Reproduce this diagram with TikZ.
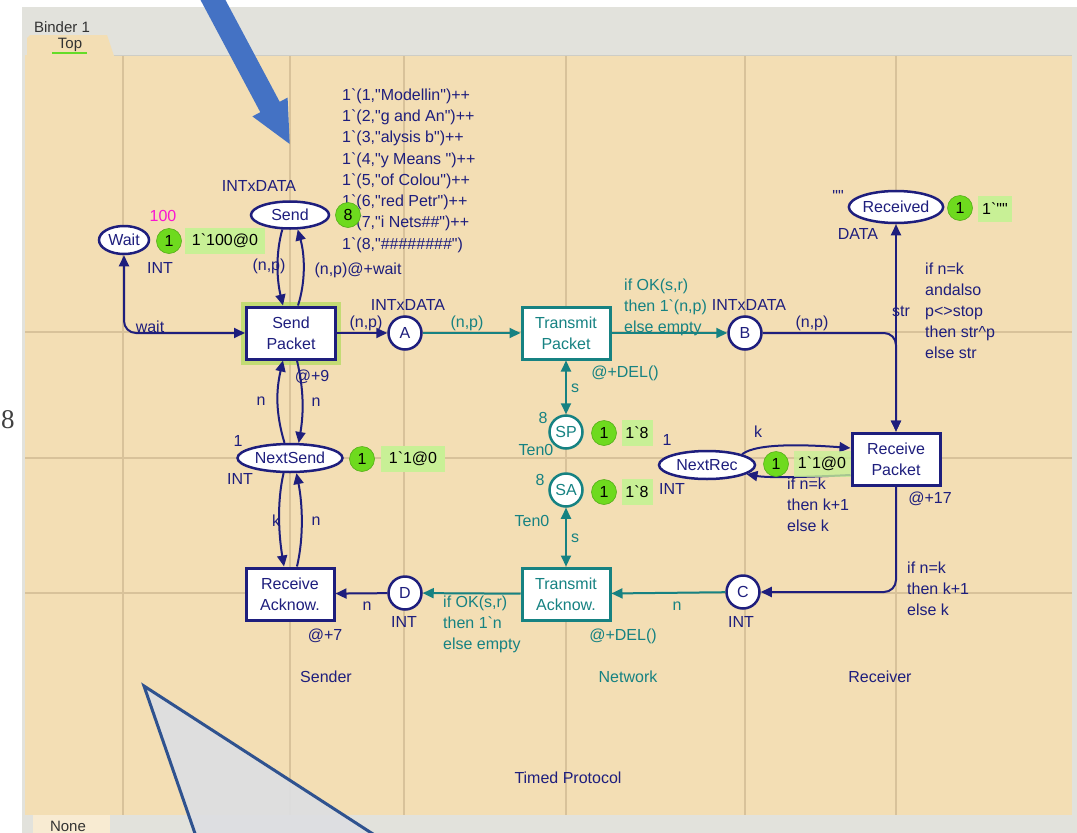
\documentclass[tikz,border=0pt]{standalone}
\usepackage{fontspec}
\setmainfont{Liberation Sans}[Ligatures=TeXOff]
\newfontfamily\marginfont{Liberation Serif}
\usetikzlibrary{shapes.geometric,arrows.meta}

\definecolor{cpnnavy}{RGB}{30,30,125}
\definecolor{cpnteal}{RGB}{22,130,130}
\definecolor{sheet}{RGB}{243,222,180}
\definecolor{gridtan}{RGB}{216,194,154}
\definecolor{panel}{RGB}{226,226,220}
\definecolor{panelline}{RGB}{205,205,198}
\definecolor{tokgreen}{RGB}{110,218,30}
\definecolor{tokedge}{RGB}{85,175,25}
\definecolor{markgreen}{RGB}{200,240,150}
\definecolor{initmag}{RGB}{250,20,210}
\definecolor{callblue}{RGB}{68,114,196}
\definecolor{calledge}{RGB}{47,82,143}
\definecolor{callfill}{RGB}{221,222,226}
\definecolor{glow}{RGB}{180,218,95}
\definecolor{tabline}{RGB}{100,220,40}

\begin{document}
\begin{tikzpicture}[x=1pt,y=-1pt,
  lbl/.style={font=\fontsize{16}{21}\selectfont, inner sep=0pt, text=cpnnavy},
  tlbl/.style={lbl, text=cpnteal},
  blockl/.style={lbl, align=left, anchor=west},
  tblockl/.style={blockl, text=cpnteal},
  place/.style={ellipse, draw=cpnnavy, line width=2.5pt, fill=white, inner sep=0pt, lbl},
  cplace/.style={circle, draw=cpnnavy, line width=2.5pt, fill=white, inner sep=0pt, minimum size=33pt, lbl},
  tplace/.style={cplace, draw=cpnteal, text=cpnteal},
  trans/.style={rectangle, draw=cpnnavy, line width=3pt, fill=white, minimum width=88pt, minimum height=52pt, align=center, lbl},
  ttrans/.style={trans, draw=cpnteal, text=cpnteal},
  token/.style={circle, fill=tokgreen, draw=tokedge, line width=0.6pt, minimum size=25pt, inner sep=0pt, font=\fontsize{16}{16}\selectfont, text=black},
  marking/.style={rectangle, fill=markgreen, minimum height=26pt, inner xsep=3pt, inner ysep=0pt, font=\fontsize{16}{16}\selectfont, text=black},
  arc/.style={draw=cpnnavy, line width=2pt, -{Triangle[length=11pt,width=10pt]}},
  tarc/.style={arc, draw=cpnteal},
  both/.style={{Triangle[length=11pt,width=10pt]}-{Triangle[length=11pt,width=10pt]}},
  gridline/.style={draw=gridtan, line width=1.6pt},
  chrome/.style={font=\fontsize{15}{15}\selectfont, inner sep=0pt, text=black!80}
]
\useasboundingbox (0,0) rectangle (1077,833);
\clip (0,0) rectangle (1077,833);

% window chrome
\fill[white] (0,0) rectangle (1077,833);
\fill[panel] (22,7) rectangle (1077,833);
\fill[sheet] (25,55) rectangle (1072,815);
\draw[panelline, line width=1pt] (113,55) -- (1072,55);
\fill[sheet] (27,56) -- (27,38) -- (30,35) -- (107,35) -- (114,56) -- cycle;
\node[chrome] (binder) at (62,27) {Binder 1};
\node[chrome] (toptab) at (70,45) {Top};
\draw[tabline, line width=1.5pt] (52,53) -- (87,53);
\fill[sheet!60!white] (33,815) rectangle (110,833);
\node[chrome] (nonetab) at (68,826) {None};
\node[font=\marginfont\fontsize{27}{27}\selectfont, inner sep=0pt, text=black!75] (margin8) at (8,420) {8};

% page grid
\foreach \gx in {123,290,404,566,745,896} \draw[gridline] (\gx,56) -- (\gx,815);
\foreach \gy in {332,458,593} \draw[gridline] (25,\gy) -- (1072,\gy);

% places
\node[place, minimum width=50pt, minimum height=28pt] (wait) at (124,240) {Wait};
\node[place, minimum width=78pt, minimum height=27pt] (send) at (290,215) {Send};
\node[place, minimum width=105pt, minimum height=28pt] (nextsend) at (290,458) {NextSend};
\node[place, minimum width=96pt, minimum height=28pt] (nextrec) at (707,465) {NextRec};
\node[place, minimum width=90pt, minimum height=32pt] (received) at (896,207) {Received};
\node[cplace] (pa) at (405,333) {A};
\node[cplace] (pb) at (745,333) {B};
\node[cplace] (pc) at (743,592) {C};
\node[cplace] (pd) at (405,593) {D};
\node[tplace] (sp) at (566,432) {SP};
\node[tplace] (sa) at (566,490) {SA};

% transitions
\node[rectangle, minimum width=100pt, minimum height=63pt, fill=glow, opacity=0.75] (sendglow) at (291,333) {};
\node[trans, minimum width=89pt] (sendpkt) at (291,333) {Send\\Packet};
\node[ttrans] (transpkt) at (566,333) {Transmit\\Packet};
\node[trans] (recvpkt) at (896,459) {Receive\\Packet};
\node[ttrans] (transack) at (566,594) {Transmit\\Acknow.};
\node[trans] (recvack) at (290,594) {Receive\\Acknow.};

% sender arcs
\draw[arc, both, rounded corners=12pt] (wait) |- (sendpkt);
\draw[arc] (send.242) .. controls +(-7,25) and +(-6,-25) .. ([xshift=-8pt]sendpkt.north);
\draw[arc] ([xshift=7pt]sendpkt.north) .. controls +(8,-25) and +(7,25) .. (send.298);
\draw[arc] (nextsend.110) .. controls +(-9,-30) and +(-7,30) .. ([xshift=-8pt]sendpkt.south);
\draw[arc] ([xshift=6pt]sendpkt.south) .. controls +(7,30) and +(5,-30) .. (nextsend.60);
\draw[arc] (nextsend.247) .. controls +(-7,30) and +(-5,-30) .. ([xshift=-6pt]recvack.north);
\draw[arc] ([xshift=7pt]recvack.north) .. controls +(7,-30) and +(6,30) .. (nextsend.293);
\draw[arc] (sendpkt) -- (pa);
\draw[arc] (pd) -- (recvack);

% network arcs
\draw[tarc] (pa) -- (transpkt);
\draw[tarc] (transpkt) -- (pb);
\draw[tarc] (pc) -- (transack);
\draw[tarc] (transack) -- (pd);
\draw[tarc, both] (transpkt) -- (sp);
\draw[tarc, both] (sa) -- (transack);

% receiver arcs
\draw[arc, rounded corners=12pt] (pb) -| (recvpkt);
\draw[arc, both] (received) -- (recvpkt);
\draw[arc, rounded corners=12pt] (recvpkt) |- (pc);
\draw[arc] (nextrec.17) .. controls +(15,-12) and +(-40,-3) .. ([yshift=11pt]recvpkt.west);
\draw[arc] ([yshift=-16pt]recvpkt.west) .. controls +(-40,2) and +(22,4) .. (nextrec.-13);

% colour sets, initial markings and inscriptions
\node[lbl] (csSend) at (259,186) {INTxDATA};
\node[lbl, text=initmag] (initWait) at (163,216) {100};
\node[lbl] (csWait) at (160,268) {INT};
\node[blockl, font=\fontsize{16}{21.3}\selectfont] (initSend) at (342,170.5) {1`(1,"Modellin")++\\1`(2,"g and An")++\\1`(3,"alysis b")++\\1`(4,"y Means ")++\\1`(5,"of Colou")++\\1`(6,"red Petr")++\\1`(7,"i Nets\#\#")++\\1`(8,"\#\#\#\#\#\#\#\#")};
\node[lbl] (insA) at (269,266) {(n,p)};
\node[lbl] (insB) at (358,270) {(n,p)@+wait};
\node[lbl] (insWait) at (150,327) {wait};
\node[lbl] (insSP) at (366,323) {(n,p)};
\node[lbl] (csA) at (408,305) {INTxDATA};
\node[tlbl] (insAT) at (467,323) {(n,p)};
\node[tblockl] (insTP) at (624,307) {if OK(s,r)\\then 1`(n,p)\\else empty};
\node[lbl] (csB) at (749,305) {INTxDATA};
\node[tlbl] (delTP) at (625,373) {@+DEL()};
\node[lbl] (insBR) at (812,323) {(n,p)};
\node[lbl] (initRec) at (838,196) {""};
\node[lbl] (csRec) at (858,234) {DATA};
\node[lbl] (insStr) at (901,311) {str};
\node[blockl] (insRec) at (925,311) {if n=k\\andalso\\p<>stop\\then str\textasciicircum p\\else str};
\node[lbl] (timeRP) at (930,499) {@+17};
\node[blockl] (insRC) at (907,589) {if n=k\\then k+1\\else k};
\node[lbl] (csC) at (741,622) {INT};
\node[tlbl] (insCT) at (677,606) {n};
\node[tlbl] (delTA) at (623,636) {@+DEL()};
\node[tblockl] (insTD) at (443,624) {if OK(s,r)\\then 1`n\\else empty};
\node[lbl] (csD) at (404,622) {INT};
\node[lbl] (insDR) at (367,606) {n};
\node[lbl] (timeRA) at (325,636) {@+7};
\node[lbl] (timeSP) at (312,377) {@+9};
\node[lbl] (insN1) at (261,401) {n};
\node[lbl] (insN2) at (316,402) {n};
\node[lbl] (insK1) at (276,521) {k};
\node[lbl] (insN3) at (316,521) {n};
\node[lbl] (initNS) at (238,441) {1};
\node[lbl] (csNS) at (240,479) {INT};
\node[tlbl] (insS1) at (575,388) {s};
\node[tlbl] (insS2) at (575,538) {s};
\node[tlbl] (initSP) at (543,418) {8};
\node[tlbl] (csSP) at (536,450) {Ten0};
\node[tlbl] (initSA) at (540,480) {8};
\node[tlbl] (csSA) at (532,521) {Ten0};
\node[lbl] (initNR) at (667,440) {1};
\node[lbl] (csNR) at (672,489) {INT};
\node[lbl] (insK2) at (758,432) {k};
\node[blockl] (insNR) at (787,505) {if n=k\\then k+1\\else k};

% current markings
\node[token] (tokWait) at (169,241) {1};
\node[marking, minimum width=80pt] (mkWait) at (225,241) {1`100@0};
\node[token] (tokSend) at (348,215) {8};
\node[token] (tokNS) at (362,459) {1};
\node[marking, minimum width=64pt] (mkNS) at (413,459) {1`1@0};
\node[token] (tokSP) at (604,433) {1};
\node[marking, minimum width=31pt] (mkSP) at (637,433) {1`8};
\node[token] (tokSA) at (604,492) {1};
\node[marking, minimum width=31pt] (mkSA) at (637,492) {1`8};
\node[token] (tokNR) at (776,464) {1};
\node[marking, minimum width=57pt, fill opacity=0.8, text opacity=1] (mkNR) at (822,464) {1`1@0};
\node[token] (tokRec) at (960,208) {1};
\node[marking, minimum width=34pt] (mkRec) at (995,209) {1`""};

% page labels
\node[lbl] (lblSender) at (326,677) {Sender};
\node[tlbl] (lblNetwork) at (628,677) {Network};
\node[lbl] (lblReceiver) at (880,677) {Receiver};
\node[lbl] (lblTitle) at (568,778) {Timed Protocol};

% pointer arrow and callout
\fill[callblue] (199.2,-2.5) -- (260.3,112.2) -- (252.4,116.4) -- (289.7,144) -- (287.6,97.6) -- (279.7,101.8) -- (218.6,-12.9) -- cycle;
\draw[calledge, line width=3pt, fill=callfill, fill opacity=0.93, line join=miter] (144,686) -- (199,845) -- (390,845) -- cycle;
\end{tikzpicture}
\end{document}
